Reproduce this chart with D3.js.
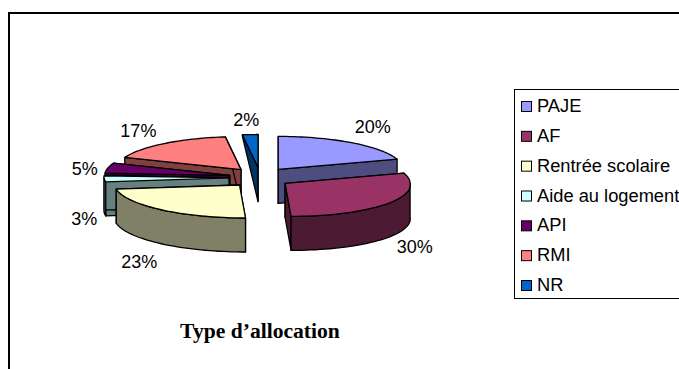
<!DOCTYPE html>
<html>
<head>
<meta charset="utf-8">
<script src="https://cdnjs.cloudflare.com/ajax/libs/d3/7.8.5/d3.min.js"></script>
<style>
html, body { margin: 0; padding: 0; background: #fff; overflow: hidden; }
svg { display: block; }
text { fill: #000; }
</style>
</head>
<body>
<script>
// Allocation types and their shares (%)
const categories = ["PAJE", "AF", "Rentrée scolaire", "Aide au logement", "API", "RMI", "NR"];
const shares = [20, 30, 23, 3, 5, 17, 2];
const topColors = ["#9999FF", "#993366", "#FFFFCC", "#CCFFFF", "#660066", "#FF8080", "#0066CC"];
const chartTitle = "Type d’allocation";

// Layout of the tilted, exploded pie
const W = 679, H = 369;
const pieCenter = { x: 260, y: 177.5 };
const radiusX = 125, radiusY = 33, wallDepth = 34;
const explodeX = 31, explodeY = 10;
const frontShear = 6;
// Label nudges from each slice's rim midpoint
const labelNudge = [[21, -16], [25, 44], [-22, 52], [-20, 40], [-23, 1], [-26, -13], [-4, -15]];
// Back-to-front painting order (indexes into categories)
const paintOrder = [5, 4, 3, 6, 0, 1, 2];

const svg = d3.select("body").append("svg").attr("width", W).attr("height", H);

const slices = d3.pie().sort(null).value(d => d)(shares);

function project(slice, angle, r = 1, drop = 0) {
  const mid = (slice.startAngle + slice.endAngle) / 2;
  const cx = pieCenter.x + explodeX * Math.sin(mid);
  const cy = pieCenter.y - explodeY * Math.cos(mid);
  const toViewer = -Math.cos(angle) * r;
  return [
    cx + radiusX * r * Math.sin(angle) + frontShear * Math.max(0, toViewer),
    cy + radiusY * toViewer + drop
  ];
}

// Rim walls shorten sharply toward the very back of the pie
function rimDepth(angle) {
  return wallDepth * (1 - Math.pow(Math.max(0, Math.cos(angle)), 6));
}

function arcAngles(a0, a1) {
  return d3.range(0, 41).map(k => a0 + (a1 - a0) * k / 40);
}

const polygon = d3.line().curve(d3.curveLinearClosed);

const pieGroup = svg.append("g")
  .attr("stroke", "#000").attr("stroke-width", 1.3).attr("stroke-linejoin", "round");

paintOrder.forEach(i => {
  const s = slices[i];
  const top = d3.rgb(topColors[i]);
  const side = d3.rgb(top.r / 2, top.g / 2, top.b / 2).formatHex();
  const g = pieGroup.append("g").attr("class", "slice");

  // Cut faces along both radial edges
  [s.startAngle, s.endAngle].forEach(a => {
    g.append("path").attr("fill", side).attr("d", polygon([
      project(s, a, 0),
      project(s, a, 1),
      project(s, a, 1, rimDepth(a)),
      project(s, a, 0, wallDepth)
    ]));
  });

  // Outer wall on the part of the rim facing the viewer
  const w0 = Math.max(s.startAngle, Math.PI / 2);
  const w1 = Math.min(s.endAngle, 3 * Math.PI / 2);
  if (w1 > w0) {
    const angles = arcAngles(w0, w1);
    g.append("path").attr("fill", side).attr("d", polygon(
      angles.map(a => project(s, a))
        .concat(angles.slice().reverse().map(a => project(s, a, 1, wallDepth)))
    ));
  }

  // Top face
  g.append("path").attr("fill", topColors[i]).attr("d", polygon(
    [project(s, 0, 0)].concat(arcAngles(s.startAngle, s.endAngle).map(a => project(s, a)))
  ));
});

// Percentage labels
slices.forEach((s, i) => {
  const p = project(s, (s.startAngle + s.endAngle) / 2);
  svg.append("text")
    .attr("x", p[0] + labelNudge[i][0])
    .attr("y", p[1] + labelNudge[i][1] + 6)
    .attr("text-anchor", "middle")
    .attr("font-family", "'Liberation Sans', Arial, sans-serif")
    .attr("font-size", 18)
    .text(shares[i] + "%");
});

// Chart title
svg.append("text")
  .attr("x", 260).attr("y", 338)
  .attr("text-anchor", "middle")
  .attr("font-family", "'Liberation Serif', 'Times New Roman', serif")
  .attr("font-weight", "bold")
  .attr("font-size", 21.6)
  .text(chartTitle);

// Legend
const legendY = d3.scalePoint().domain(categories).range([106, 285]);
svg.append("rect")
  .attr("x", 514.5).attr("y", 89.5).attr("width", 180).attr("height", 209)
  .attr("fill", "#fff").attr("stroke", "#000").attr("stroke-width", 1);
const legend = svg.selectAll("g.legend-row").data(categories).join("g")
  .attr("class", "legend-row")
  .attr("transform", d => `translate(0,${legendY(d)})`);
legend.append("rect")
  .attr("x", 521.5).attr("y", -4.5).attr("width", 10).attr("height", 10)
  .attr("fill", (d, i) => topColors[i]).attr("stroke", "#000").attr("stroke-width", 1);
legend.append("text")
  .attr("x", 537).attr("y", 6)
  .attr("font-family", "'Liberation Sans', Arial, sans-serif")
  .attr("font-size", 18.3)
  .text(d => d);

// Outer frame, open at the right and bottom
svg.append("path")
  .attr("d", d3.line()([[9, H], [9, 13], [W, 13]]))
  .attr("fill", "none").attr("stroke", "#000").attr("stroke-width", 2);
</script>
</body>
</html>
